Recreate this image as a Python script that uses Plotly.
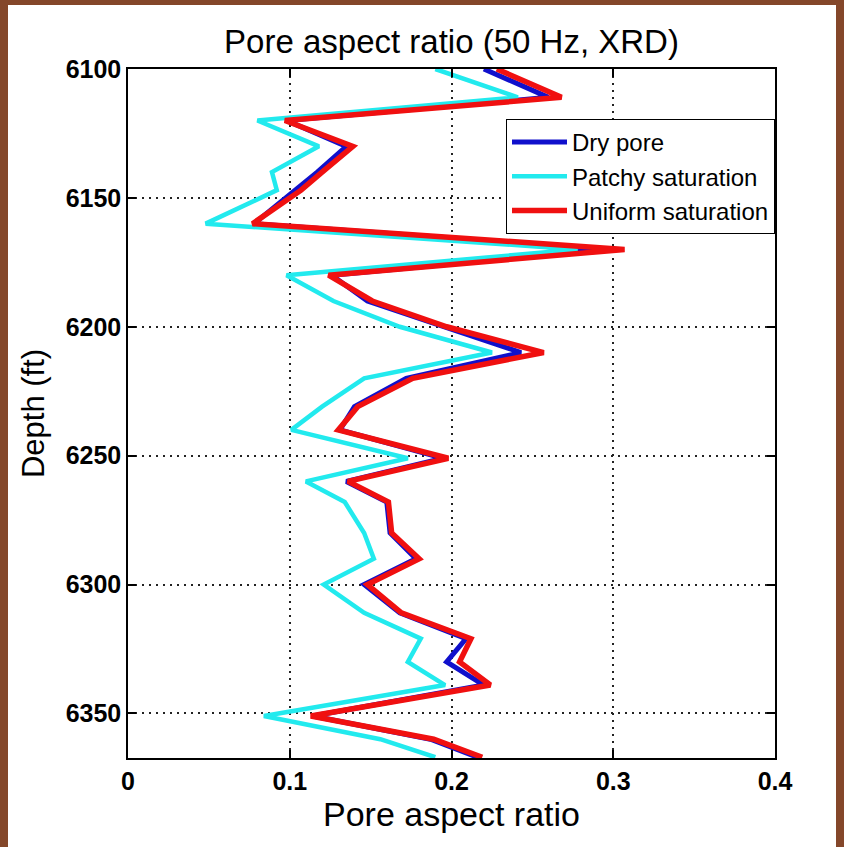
import plotly.graph_objects as go

# Depth samples (ft)
depth = [6100, 6111, 6120, 6130, 6140, 6147, 6160, 6170, 6180, 6190, 6200, 6210,
         6220, 6231, 6240, 6251, 6260, 6268, 6280, 6290, 6300, 6311, 6321, 6330,
         6339, 6351, 6360, 6367]

dry_pore = [0.220, 0.260, 0.098, 0.135, 0.117, 0.103, 0.078, 0.296, 0.126, 0.148,
            0.195, 0.243, 0.172, 0.140, 0.131, 0.195, 0.135, 0.160, 0.162, 0.178,
            0.146, 0.168, 0.209, 0.197, 0.220, 0.114, 0.187, 0.216]

patchy_sat = [0.190, 0.241, 0.080, 0.118, 0.089, 0.092, 0.048, 0.278, 0.098, 0.127,
              0.168, 0.225, 0.146, 0.120, 0.101, 0.173, 0.110, 0.134, 0.146, 0.152,
              0.121, 0.146, 0.181, 0.173, 0.196, 0.084, 0.156, 0.190]

uniform_sat = [0.228, 0.268, 0.097, 0.139, 0.120, 0.107, 0.077, 0.307, 0.124, 0.151,
               0.197, 0.257, 0.176, 0.142, 0.130, 0.198, 0.136, 0.161, 0.163, 0.180,
               0.148, 0.169, 0.212, 0.205, 0.224, 0.113, 0.189, 0.219]

x_ticks = [0, 0.1, 0.2, 0.3, 0.4]
x_tick_labels = ["0", "0.1", "0.2", "0.3", "0.4"]
y_ticks = [6100, 6150, 6200, 6250, 6300, 6350]
y_tick_labels = ["6100", "6150", "6200", "6250", "6300", "6350"]

FONT = "Liberation Sans, Arial, sans-serif"

fig = go.Figure()
fig.add_trace(go.Scatter(x=dry_pore, y=depth, mode="lines", name="Dry pore",
                         line=dict(color="#1010cc", width=5)))
fig.add_trace(go.Scatter(x=patchy_sat, y=depth, mode="lines", name="Patchy saturation",
                         line=dict(color="#22eaee", width=4.5)))
fig.add_trace(go.Scatter(x=uniform_sat, y=depth, mode="lines", name="Uniform saturation",
                         line=dict(color="#f01010", width=5.5)))

L, R, T, B = 128, 69, 69, 89
W, H = 844, 847
pw = W - L - R
ph = H - T - B

def px_x(p):
    return (p - L) / pw

def px_y(p):
    return (H - B - p) / ph

fig.update_layout(
    width=W, height=H,
    margin=dict(l=L, r=R, t=T, b=B),
    paper_bgcolor="#84472a",
    plot_bgcolor="white",
    font=dict(family=FONT, color="black"),
    title=dict(text="Pore aspect ratio (50 Hz, XRD)", x=0.5, xref="paper",
               y=1 - 41 / H, yref="container", yanchor="middle", xanchor="center",
               font=dict(size=33, family=FONT, color="black")),
    showlegend=True,
    legend=dict(x=1, y=px_y(119), xanchor="right", yanchor="top",
                bgcolor="white", bordercolor="black", borderwidth=1,
                font=dict(size=24, family=FONT, color="black"),
                tracegroupgap=0, itemwidth=55),
    shapes=[dict(type="rect", xref="paper", yref="paper",
                 x0=px_x(8), x1=px_x(836), y0=px_y(847), y1=px_y(5),
                 fillcolor="white", line=dict(width=0), layer="below")],
)

fig.update_xaxes(
    range=[0, 0.4], tickvals=x_ticks, ticktext=x_tick_labels,
    title=dict(text="Pore aspect ratio", font=dict(size=34, family=FONT), standoff=8),
    tickfont=dict(size=25, family=FONT, weight="bold"),
    showline=True, linecolor="black", linewidth=1.5, mirror="ticks",
    ticks="inside", ticklen=8, tickcolor="black", tickwidth=1.5,
    showgrid=True, gridcolor="#222222", gridwidth=1.5, griddash="2px,5px",
    zeroline=False,
)
fig.update_yaxes(
    range=[6367.3, 6100], tickvals=y_ticks, ticktext=y_tick_labels,
    title=dict(text="Depth (ft)", font=dict(size=31, family=FONT), standoff=12),
    tickfont=dict(size=25, family=FONT, weight="bold"),
    showline=True, linecolor="black", linewidth=1.5, mirror="ticks",
    ticks="inside", ticklen=8, tickcolor="black", tickwidth=1.5,
    showgrid=True, gridcolor="#222222", gridwidth=1.5, griddash="2px,5px",
    zeroline=False,
)

fig.write_html("out.html")
